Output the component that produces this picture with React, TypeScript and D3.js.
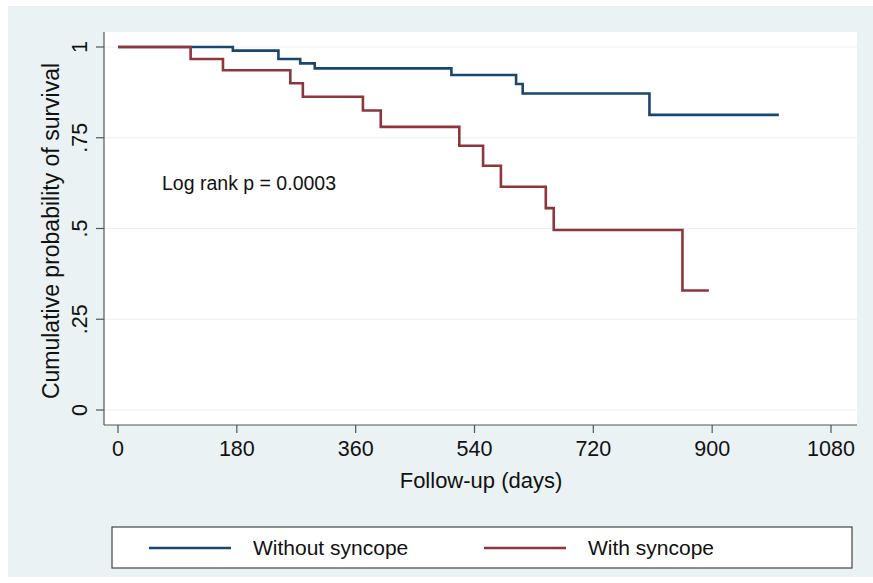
import { useRef, useEffect } from 'react';
import * as d3 from 'd3';

// Kaplan-Meier steps (time in days, survival)
const noSyncopeTimes = [0, 174, 243, 276, 298, 505, 603, 613, 805, 1001];
const noSyncopeSurv = [1, 0.99, 0.967, 0.955, 0.941, 0.923, 0.898, 0.872, 0.813, 0.813];
const syncopeTimes = [0, 110, 159, 261, 280, 371, 398, 517, 553, 580, 648, 660, 855, 895];
const syncopeSurv = [1, 0.967, 0.936, 0.9, 0.863, 0.825, 0.78, 0.728, 0.673, 0.615, 0.556, 0.496, 0.329, 0.329];

const xTicks = [0, 180, 360, 540, 720, 900, 1080];
const yTicks = [0, 0.25, 0.5, 0.75, 1];
const yTickLabels = ['0', '.25', '.5', '.75', '1'];
const seriesNames = ['Without syncope', 'With syncope'];

const C = {
  bg: '#eaf2f3',
  grid: '#eaf2f3',
  axis: '#555555',
  text: '#111111',
  blue: '#1a476f',
  red: '#90353b',
};
const FONT = '"Liberation Sans", Arial, Helvetica, sans-serif';

export default function App() {
  const svgRef = useRef<SVGSVGElement | null>(null);
  const width = 873;
  const height = 583;

  useEffect(() => {
    if (!svgRef.current) return;
    const svg = d3.select(svgRef.current);
    svg.selectAll('*').remove();

    const plot = { left: 104, right: 857, top: 32, bottom: 425 };

    // outer background
    svg.append('rect')
      .attr('x', 8).attr('y', 6)
      .attr('width', width - 8).attr('height', 571)
      .attr('fill', C.bg);

    // plot region
    svg.append('rect')
      .attr('x', plot.left).attr('y', plot.top)
      .attr('width', plot.right - plot.left).attr('height', plot.bottom - plot.top)
      .attr('fill', '#ffffff');

    const x = d3.scaleLinear().domain([0, 1080]).range([118, 831]);
    const y = d3.scaleLinear().domain([0, 1]).range([410, 47]);

    // grid lines
    yTicks.forEach(t => {
      svg.append('line')
        .attr('x1', plot.left).attr('x2', plot.right)
        .attr('y1', y(t)).attr('y2', y(t))
        .attr('stroke', C.grid).attr('stroke-width', 1.2);
    });

    // axes
    svg.append('line')
      .attr('x1', plot.left).attr('x2', plot.left)
      .attr('y1', plot.top).attr('y2', plot.bottom)
      .attr('stroke', C.axis).attr('stroke-width', 1.2);
    svg.append('line')
      .attr('x1', plot.left).attr('x2', plot.right)
      .attr('y1', plot.bottom).attr('y2', plot.bottom)
      .attr('stroke', C.axis).attr('stroke-width', 1.2);

    yTicks.forEach((t, i) => {
      svg.append('line')
        .attr('x1', plot.left - 8).attr('x2', plot.left)
        .attr('y1', y(t)).attr('y2', y(t))
        .attr('stroke', C.axis).attr('stroke-width', 1.2);
      svg.append('text')
        .attr('transform', `translate(${87},${y(t)}) rotate(-90)`)
        .attr('text-anchor', 'middle')
        .attr('font-family', FONT)
        .attr('font-size', 21.5)
        .attr('fill', C.text)
        .text(yTickLabels[i]);
    });

    xTicks.forEach(t => {
      svg.append('line')
        .attr('x1', x(t)).attr('x2', x(t))
        .attr('y1', plot.bottom).attr('y2', plot.bottom + 8)
        .attr('stroke', C.axis).attr('stroke-width', 1.2);
      svg.append('text')
        .attr('x', x(t)).attr('y', 456)
        .attr('text-anchor', 'middle')
        .attr('font-family', FONT)
        .attr('font-size', 21.5)
        .attr('fill', C.text)
        .text(t);
    });

    // axis titles
    svg.append('text')
      .attr('x', 481).attr('y', 488)
      .attr('text-anchor', 'middle')
      .attr('font-family', FONT)
      .attr('font-size', 22)
      .attr('fill', C.text)
      .text('Follow-up (days)');
    svg.append('text')
      .attr('transform', `translate(${59},${231}) rotate(-90)`)
      .attr('text-anchor', 'middle')
      .attr('font-family', FONT)
      .attr('font-size', 23)
      .attr('fill', C.text)
      .text('Cumulative probability of survival');

    // curves
    const line = d3.line<[number, number]>()
      .x(d => x(d[0]))
      .y(d => y(d[1]))
      .curve(d3.curveStepAfter);

    const series = [
      { times: noSyncopeTimes, surv: noSyncopeSurv, color: C.blue },
      { times: syncopeTimes, surv: syncopeSurv, color: C.red },
    ];
    series.forEach(s => {
      const pts = s.times.map((t, i) => [t, s.surv[i]] as [number, number]);
      svg.append('path')
        .attr('d', line(pts))
        .attr('fill', 'none')
        .attr('stroke', s.color)
        .attr('stroke-width', 2.6)
        .attr('stroke-linejoin', 'miter');
    });

    // annotation
    svg.append('text')
      .attr('x', 162).attr('y', 190)
      .attr('font-family', FONT)
      .attr('font-size', 19.5)
      .attr('fill', C.text)
      .text('Log rank p = 0.0003');

    // legend
    svg.append('rect')
      .attr('x', 112).attr('y', 527)
      .attr('width', 740).attr('height', 41)
      .attr('fill', '#ffffff')
      .attr('stroke', '#444444')
      .attr('stroke-width', 1.2);

    const legendItems = [
      { name: seriesNames[0], color: C.blue, x0: 149 },
      { name: seriesNames[1], color: C.red, x0: 484 },
    ];
    legendItems.forEach(item => {
      svg.append('line')
        .attr('x1', item.x0).attr('x2', item.x0 + 82)
        .attr('y1', 548).attr('y2', 548)
        .attr('stroke', item.color).attr('stroke-width', 2.6);
      svg.append('text')
        .attr('x', item.x0 + 104).attr('y', 555)
        .attr('font-family', FONT)
        .attr('font-size', 21)
        .attr('fill', C.text)
        .text(item.name);
    });
  }, []);

  return (
    <svg
      ref={svgRef}
      width={width}
      height={height}
      style={{ position: 'absolute', left: 0, top: 0, background: '#ffffff' }}
    />
  );
}
